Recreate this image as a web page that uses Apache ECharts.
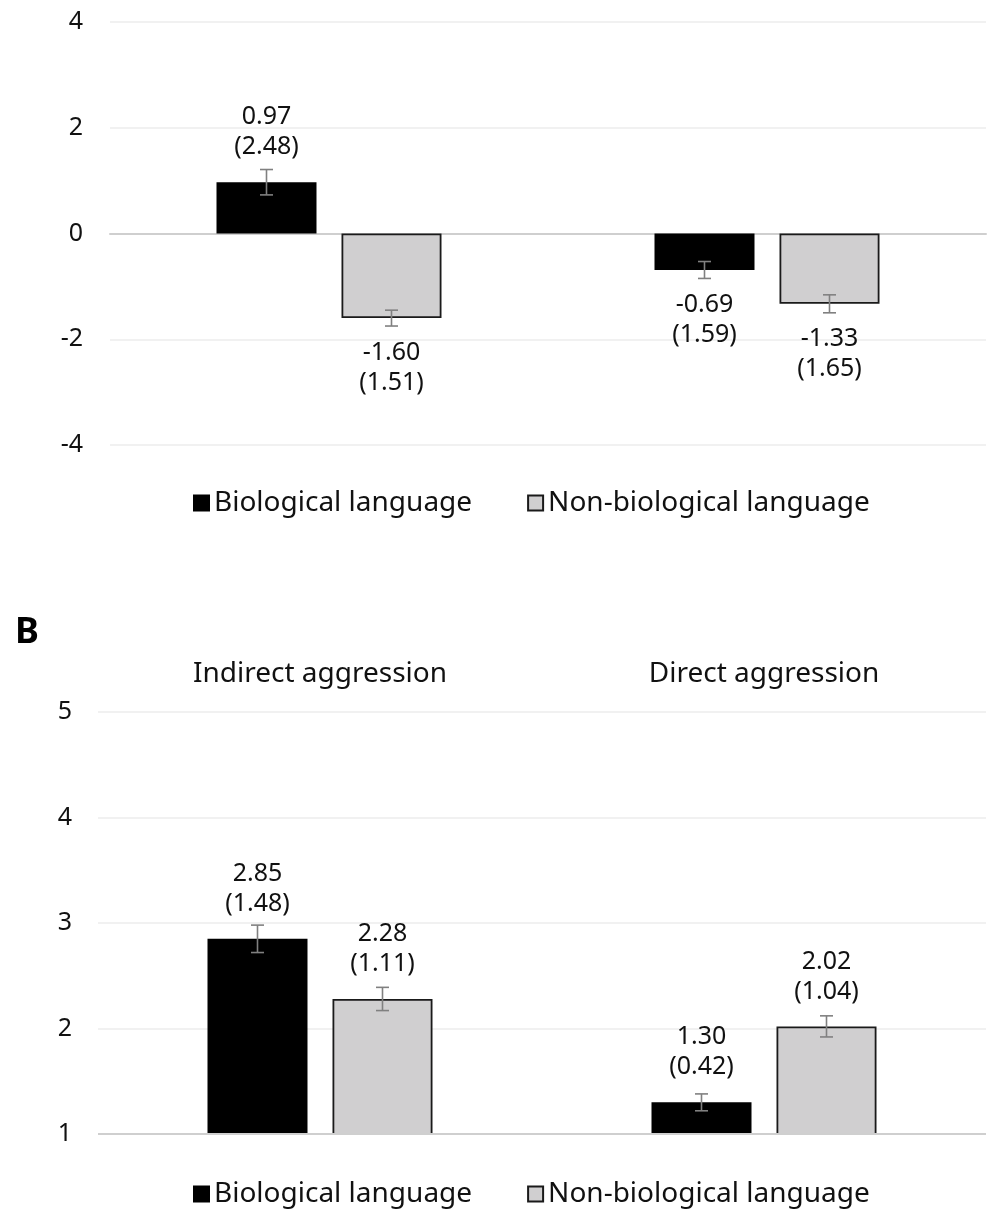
<!DOCTYPE html>
<html>
<head>
<meta charset="utf-8">
<script src="https://cdn.jsdelivr.net/npm/echarts@6/dist/echarts.min.js"></script>
<style>
  html, body { margin: 0; padding: 0; background: #fff; }
  #chart { width: 989px; height: 1210px; }
</style>
</head>
<body>
<div id="chart"></div>
<script>
// categories (panel A has no visible category labels)
const categories = ["Indirect aggression", "Direct aggression"];
const seriesNames = ["Biological language", "Non-biological language"];

// panel A: means, SDs (shown in labels), error bar half-lengths
const bioMeanA = [0.97, -0.69];
const bioSdA = [2.48, 1.59];
const bioErrA = [0.24, 0.16];
const nonMeanA = [-1.60, -1.33];
const nonSdA = [1.51, 1.65];
const nonErrA = [0.15, 0.17];

// panel B
const bioMeanB = [2.85, 1.30];
const bioSdB = [1.48, 0.42];
const bioErrB = [0.13, 0.08];
const nonMeanB = [2.28, 2.02];
const nonSdB = [1.11, 1.04];
const nonErrB = [0.11, 0.10];

const FONT = "Noto Sans";
const TEXT = "#111";

const chart = echarts.init(document.getElementById("chart"), null, { renderer: "canvas" });

const BAR_W = 100;
const BAR_GAP = "25%";
const OFFSET = (BAR_W * 1.25) / 2;

function barSeries(name, means, sds, axisIdx, fill, border) {
  return {
    name: name,
    type: "bar",
    xAxisIndex: axisIdx,
    yAxisIndex: axisIdx,
    barWidth: BAR_W,
    barGap: BAR_GAP,
    itemStyle: { color: fill, borderColor: border, borderWidth: 1.8 },
    data: means.map((v, i) => ({
      value: v,
      label: {
        show: true,
        position: v < 0 ? "bottom" : "top",
        distance: 20,
        formatter: v.toFixed(2) + "\n(" + sds[i].toFixed(2) + ")",
        fontFamily: FONT,
        fontSize: 25,
        lineHeight: 30,
        color: TEXT,
      },
    })),
    z: 2,
  };
}

function errSeries(means, errs, axisIdx, side) {
  return {
    type: "custom",
    xAxisIndex: axisIdx,
    yAxisIndex: axisIdx,
    silent: true,
    z: 5,
    data: means.map((v, i) => [i, v - errs[i], v + errs[i]]),
    renderItem: function (params, api) {
      const lo = api.coord([api.value(0), api.value(1)]);
      const hi = api.coord([api.value(0), api.value(2)]);
      const x = lo[0] + side * OFFSET;
      const cap = 6.5;
      const style = { stroke: "#808080", lineWidth: 1.6 };
      return {
        type: "group",
        children: [
          { type: "line", shape: { x1: x, y1: lo[1], x2: x, y2: hi[1] }, style: style },
          { type: "line", shape: { x1: x - cap, y1: lo[1], x2: x + cap, y2: lo[1] }, style: style },
          { type: "line", shape: { x1: x - cap, y1: hi[1], x2: x + cap, y2: hi[1] }, style: style },
        ],
      };
    },
  };
}

const axisLabelStyle = { fontFamily: FONT, fontSize: 25, color: TEXT };

const legendBase = {
  data: seriesNames,
  left: 188,
  itemWidth: 15,
  itemHeight: 15,
  itemGap: 55,
  icon: "rect",
  selectedMode: false,
  textStyle: { fontFamily: FONT, fontSize: 28, color: TEXT, padding: [0, 0, 0, 0] },
};

const option = {
  animation: false,
  backgroundColor: "#fff",
  textStyle: { fontFamily: FONT },
  title: {
    text: "B",
    left: 10,
    top: 610,
    textStyle: { fontFamily: FONT, fontSize: 36, fontWeight: "bold", color: "#000" },
  },
  legend: [
    Object.assign({}, legendBase, { top: 484 }),
    Object.assign({}, legendBase, { top: 1175 }),
  ],
  grid: [
    { left: 110, right: 3, top: 22, height: 423, containLabel: false, outerBoundsMode: "none" },
    { left: 98, right: 3, top: 712, height: 422, containLabel: false, outerBoundsMode: "none" },
  ],
  xAxis: [
    {
      type: "category",
      gridIndex: 0,
      data: categories,
      axisLine: { onZero: true, lineStyle: { color: "#cfcfcf", width: 2 } },
      axisTick: { show: false },
      axisLabel: { show: false },
    },
    {
      type: "category",
      gridIndex: 1,
      position: "top",
      data: categories,
      axisLine: { show: false },
      axisTick: { show: false },
      axisLabel: Object.assign({ margin: 24 }, axisLabelStyle, { fontSize: 28 }),
    },
  ],
  yAxis: [
    {
      type: "value",
      gridIndex: 0,
      min: -4,
      max: 4,
      interval: 2,
      axisLine: { show: false },
      axisTick: { show: false },
      axisLabel: Object.assign({ margin: 27 }, axisLabelStyle),
      splitLine: { lineStyle: { color: "#ececec", width: 1.5 } },
    },
    {
      type: "value",
      gridIndex: 1,
      min: 1,
      max: 5,
      interval: 1,
      axisLine: { show: false },
      axisTick: { show: false },
      axisLabel: Object.assign({ margin: 26 }, axisLabelStyle),
      splitLine: { lineStyle: { color: "#ececec", width: 1.5 } },
    },
  ],
  series: [
    barSeries(seriesNames[0], bioMeanA, bioSdA, 0, "#000", "#000"),
    barSeries(seriesNames[1], nonMeanA, nonSdA, 0, "#d0cfd0", "#1a1a1a"),
    errSeries(bioMeanA, bioErrA, 0, -1),
    errSeries(nonMeanA, nonErrA, 0, 1),
    barSeries(seriesNames[0], bioMeanB, bioSdB, 1, "#000", "#000"),
    barSeries(seriesNames[1], nonMeanB, nonSdB, 1, "#d0cfd0", "#1a1a1a"),
    errSeries(bioMeanB, bioErrB, 1, -1),
    errSeries(nonMeanB, nonErrB, 1, 1),
    {
      // baseline of panel B at value 1
      type: "line",
      xAxisIndex: 1,
      yAxisIndex: 1,
      silent: true,
      symbol: "none",
      data: [],
      markLine: {
        silent: true,
        symbol: "none",
        label: { show: false },
        lineStyle: { color: "#cfcfcf", width: 2, type: "solid" },
        data: [{ yAxis: 1 }],
      },
      z: 1,
    },
  ],
};

chart.setOption(option);
</script>
</body>
</html>
